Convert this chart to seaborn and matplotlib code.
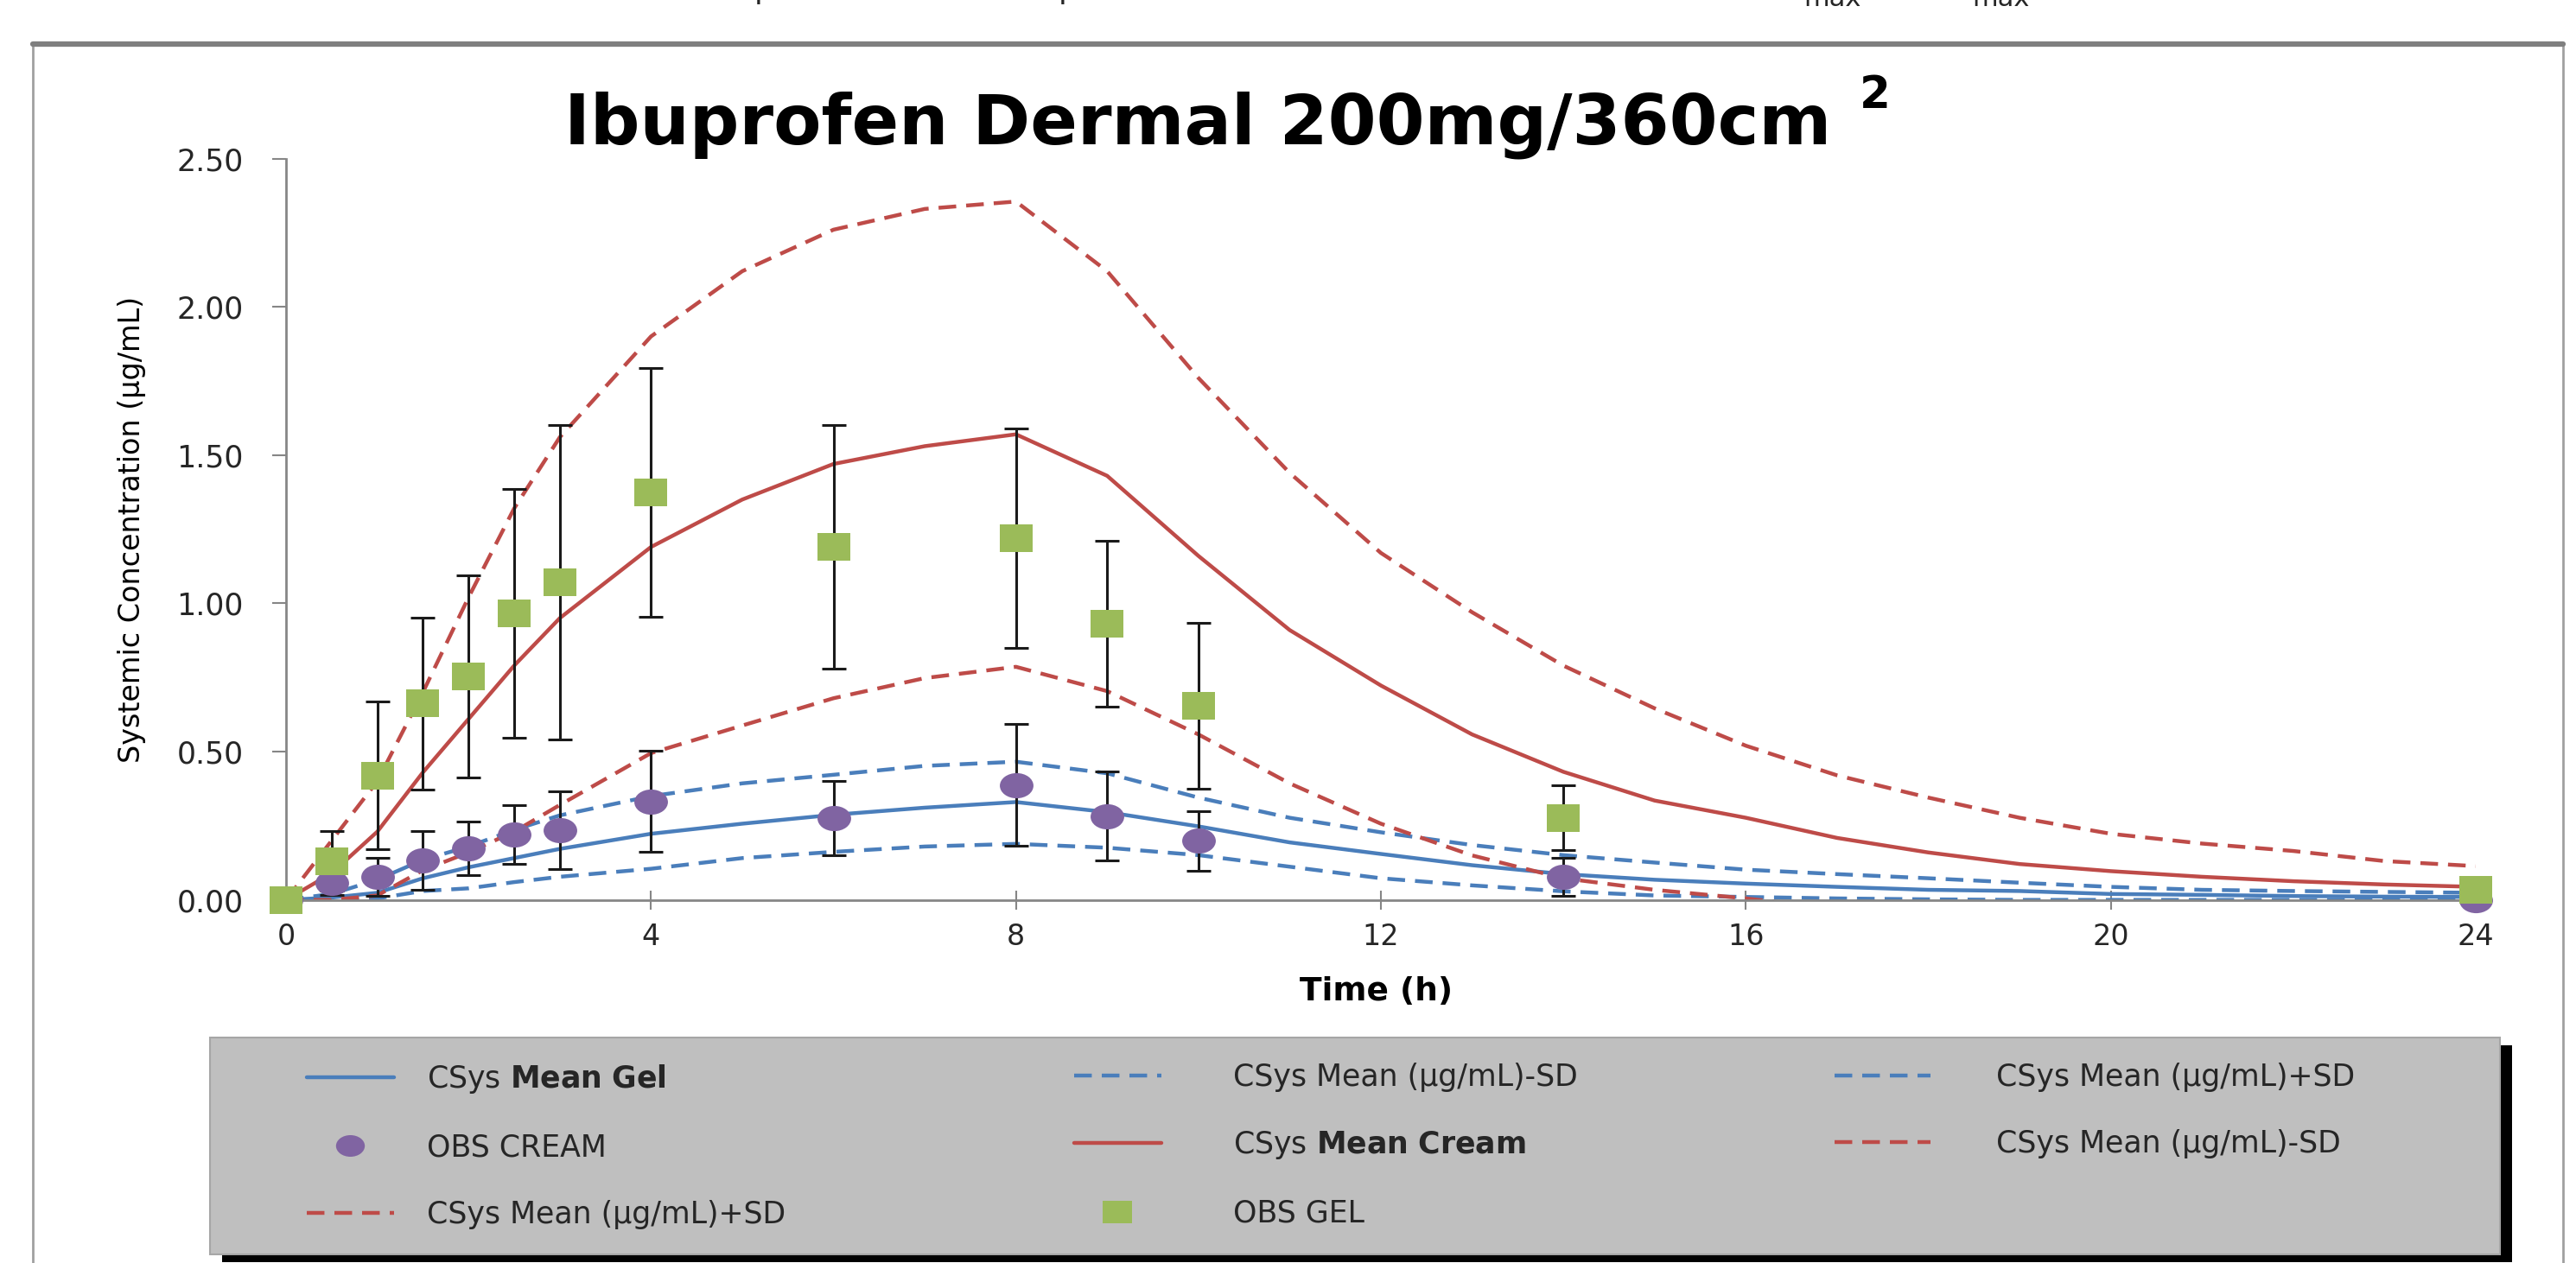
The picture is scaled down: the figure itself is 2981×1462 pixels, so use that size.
import numpy as np
import pandas as pd
import matplotlib
matplotlib.use('Agg')
import matplotlib.pyplot as plt
import seaborn as sns
from matplotlib.path import Path
from matplotlib.lines import Line2D
from matplotlib.patches import Rectangle

# simulated profiles (h, ug/mL)
t_sim = [0, 0.5, 1, 1.5, 2, 2.5, 3, 4, 5, 6, 7, 8, 9, 10, 11, 12, 13, 14,
         15, 16, 17, 18, 19, 20, 21, 22, 23, 24]
gel_mean = [0, 0.008, 0.024, 0.073, 0.11, 0.141, 0.172, 0.223, 0.257, 0.287,
            0.311, 0.330, 0.296, 0.248, 0.194, 0.155, 0.117, 0.087, 0.068,
            0.055, 0.044, 0.034, 0.03, 0.02, 0.017, 0.013, 0.011, 0.01]
gel_minus = [0, 0, 0.005, 0.03, 0.039, 0.06, 0.078, 0.105, 0.141, 0.162,
             0.18, 0.189, 0.176, 0.151, 0.112, 0.073, 0.049, 0.029, 0.015,
             0.01, 0.005, 0.002, 0, 0, 0, 0, 0, 0]
gel_plus = [0, 0.02, 0.068, 0.135, 0.18, 0.236, 0.285, 0.35, 0.393, 0.422,
            0.452, 0.466, 0.427, 0.345, 0.277, 0.228, 0.185, 0.151, 0.126,
            0.102, 0.087, 0.073, 0.058, 0.044, 0.034, 0.03, 0.027, 0.024]
cream_mean = [0, 0.09, 0.23, 0.43, 0.61, 0.79, 0.95, 1.19, 1.35, 1.47, 1.53,
              1.57, 1.43, 1.16, 0.91, 0.723, 0.558, 0.432, 0.335, 0.277,
              0.209, 0.16, 0.121, 0.097, 0.078, 0.063, 0.052, 0.044]
cream_minus = [0, 0, 0.015, 0.1, 0.16, 0.23, 0.32, 0.495, 0.588, 0.68, 0.748,
               0.786, 0.704, 0.558, 0.393, 0.257, 0.15, 0.073, 0.034, 0.005,
               -0.03, np.nan, np.nan, np.nan, np.nan, np.nan, np.nan, np.nan]
cream_plus = [0, 0.2, 0.40, 0.70, 1.02, 1.32, 1.56, 1.90, 2.12, 2.26, 2.33,
              2.355, 2.12, 1.76, 1.44, 1.17, 0.97, 0.79, 0.646, 0.52, 0.42,
              0.345, 0.277, 0.223, 0.19, 0.165, 0.131, 0.114]

# observed data
t_obs = [0, 0.5, 1, 1.5, 2, 2.5, 3, 4, 6, 8, 9, 10, 14, 24]
gel_obs = [0, 0.131, 0.42, 0.663, 0.753, 0.966, 1.07, 1.375, 1.19, 1.22,
           0.932, 0.655, 0.277, 0.034]
gel_sd = [0, 0.10, 0.25, 0.29, 0.34, 0.42, 0.53, 0.42, 0.41, 0.37, 0.28,
          0.28, 0.11, 0]
cream_obs = [0, 0.058, 0.078, 0.133, 0.175, 0.221, 0.235, 0.332, 0.277,
             0.387, 0.282, 0.199, 0.078, 0.0]
cream_sd = [0, 0.04, 0.065, 0.10, 0.09, 0.10, 0.13, 0.17, 0.125, 0.205,
            0.15, 0.10, 0.065, 0]

x_ticks = [0, 4, 8, 12, 16, 20, 24]
y_ticks = [0, 0.5, 1.0, 1.5, 2.0, 2.5]

BLUE = '#4a7ebb'
RED = '#be4b48'
GREEN = '#9bbb59'
PURPLE = '#8064a2'
AXGRAY = '#868686'

sns.set_theme(style='white')
plt.rcParams['font.family'] = ['DejaVu Sans']
plt.rcParams['mathtext.fontset'] = 'dejavusans'

W, H = 2981, 1462
fig = plt.figure(figsize=(W / 100, H / 100), dpi=100)
fig.patch.set_facecolor('white')

# chart-area frame
fig.add_artist(Rectangle((38 / W, -0.05), (2966 - 38) / W, 1.05 - 51 / H,
                         transform=fig.transFigure, facecolor='white',
                         edgecolor='#a0a0a0', lw=2, zorder=0))
fig.add_artist(Line2D([38 / W, 2966 / W], [1 - 51 / H, 1 - 51 / H],
                      transform=fig.transFigure, color='#7f7f7f', lw=4.5))

ax = fig.add_axes([331 / W, 1 - 1041.7 / H, (2865 - 331) / W, 858.2 / H])
ax.set_facecolor('none')

dash = (0, (4.6, 2.6))
sim = pd.DataFrame({'t': t_sim, 'gel_mean': gel_mean, 'gel_minus': gel_minus,
                    'gel_plus': gel_plus, 'cream_mean': cream_mean,
                    'cream_minus': cream_minus, 'cream_plus': cream_plus})
series = [('gel_minus', BLUE, dash), ('gel_plus', BLUE, dash),
          ('gel_mean', BLUE, '-'), ('cream_minus', RED, dash),
          ('cream_plus', RED, dash), ('cream_mean', RED, '-')]
for col, c, ls in series:
    sns.lineplot(data=sim, x='t', y=col, ax=ax, color=c, lw=3.2,
                 linestyle=ls, zorder=2)

# error bars
ax.errorbar(t_obs, gel_obs, yerr=gel_sd, fmt='none', ecolor='#1a1a1a',
            elinewidth=2.2, capsize=10, capthick=2.2, zorder=3, clip_on=False)
ax.errorbar(t_obs, cream_obs, yerr=cream_sd, fmt='none', ecolor='#1a1a1a',
            elinewidth=2.2, capsize=10, capthick=2.2, zorder=3, clip_on=False)

# flattened markers like the source
circ = Path.unit_circle()
ellipse = Path(circ.vertices * np.array([1.0, 0.75]), circ.codes)
rect = Path([(-1, -0.8), (1, -0.8), (1, 0.8), (-1, 0.8), (-1, -0.8)],
            [Path.MOVETO, Path.LINETO, Path.LINETO, Path.LINETO, Path.CLOSEPOLY])

obs = pd.DataFrame({'t': t_obs, 'gel': gel_obs, 'cream': cream_obs})
sns.scatterplot(data=obs, x='t', y='cream', ax=ax, marker=ellipse, s=28 ** 2,
                color=PURPLE, linewidth=0, zorder=4, clip_on=False)
sns.scatterplot(data=obs, x='t', y='gel', ax=ax, marker=rect, s=28 ** 2,
                color=GREEN, linewidth=0, zorder=5, clip_on=False)

ax.set_xlim(0, 24)
ax.set_ylim(0, 2.5)
ax.set_xticks(x_ticks)
ax.set_yticks(y_ticks)
ax.set_yticklabels([f'{v:.2f}' for v in y_ticks])
for s in ['top', 'right']:
    ax.spines[s].set_visible(False)
for s in ['left', 'bottom']:
    ax.spines[s].set_color(AXGRAY)
    ax.spines[s].set_linewidth(2)
ax.tick_params(axis='x', direction='inout', length=16, width=1.5,
               color=AXGRAY, labelsize=24, labelcolor='#262626', pad=11,
               bottom=True)
ax.tick_params(axis='y', direction='out', length=11.5, width=1.5,
               color=AXGRAY, labelsize=25, labelcolor='#262626', pad=24,
               left=True)

ax.set_xlabel('Time (h)', fontsize=27, fontweight='bold', color='black')
ax.xaxis.set_label_coords(0.498, -0.124)
ax.xaxis.label.set_va('center')
ax.set_ylabel('Systemic Concentration (µg/mL)', fontsize=24, color='black')
ax.yaxis.set_label_coords(-0.0706, 0.5)
ax.yaxis.label.set_va('center')

# title
fig.text(1386 / W, 1 - 167 / H, 'Ibuprofen Dermal 200mg/360cm', ha='center',
         va='baseline', fontsize=58, fontweight='bold', color='black')
fig.text(2152 / W, 1 - 125 / H, '2', ha='left', va='baseline', fontsize=37,
         fontweight='bold', color='black')

# cut-off text from the page above
for xp in [884, 1236]:
    fig.text(xp / W, 1 + 2 / H, 'p', ha='center', va='baseline', fontsize=26)
for xm in [2120, 2315]:
    fig.text(xm / W, 1 - 7 / H, 'max', ha='center', va='baseline', fontsize=22)

# legend box with black shadow
lx0, lx1, ly0, ly1 = 243, 2893, 1201, 1452
fig.add_artist(Rectangle(((lx0 + 14) / W, 1 - (ly1 + 9) / H),
                         (lx1 - lx0) / W, (ly1 - ly0) / H,
                         transform=fig.transFigure, facecolor='black',
                         edgecolor='none', zorder=3))
fig.add_artist(Rectangle((lx0 / W, 1 - ly1 / H), (lx1 - lx0) / W,
                         (ly1 - ly0) / H, transform=fig.transFigure,
                         facecolor='#bfbfbf', edgecolor='#a6a6a6', lw=1.5,
                         zorder=4))

def line_h(c, ls):
    return Line2D([], [], color=c, lw=3.2, linestyle=ls)

def mark_h(c, m):
    return Line2D([], [], color=c, marker=m, markersize=24, linestyle='none',
                  markeredgewidth=0)

columns = [
    ([line_h(BLUE, '-'), mark_h(PURPLE, ellipse), line_h(RED, dash)],
     ['CSys $\\bf{Mean\\ Gel}$', 'OBS CREAM', 'CSys Mean (µg/mL)+SD'],
     355, 2.9, 1.1),
    ([line_h(BLUE, dash), line_h(RED, '-'), mark_h(GREEN, rect)],
     ['CSys Mean (µg/mL)-SD', 'CSys $\\bf{Mean\\ Cream}$', 'OBS GEL'],
     1243, 2.9, 2.4),
    ([line_h(BLUE, dash), line_h(RED, dash)],
     ['CSys Mean (µg/mL)+SD', 'CSys Mean (µg/mL)-SD'],
     2123, 3.2, 2.2),
]
for handles, labels, xh, hl, hp in columns:
    leg = fig.legend(handles, labels, loc='upper left',
                     bbox_to_anchor=(xh / W, 1 - 1230 / H), frameon=False,
                     fontsize=25, handlelength=hl, handletextpad=hp,
                     labelspacing=1.25, borderpad=0, borderaxespad=0)
    leg.set_zorder(6)

fig.savefig('out.png', dpi=100, facecolor='white')
